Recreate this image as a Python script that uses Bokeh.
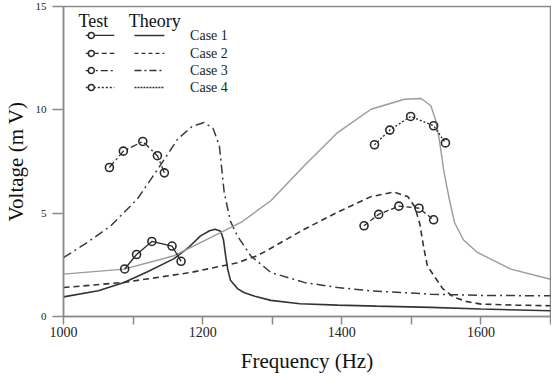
from bokeh.plotting import figure
from bokeh.models import FixedTicker, Range1d, Label
from bokeh.embed import file_html
from bokeh.resources import INLINE

# ---------------- data ----------------
# Theory curves (Frequency Hz, Voltage mV)
th1_f = [1000, 1050, 1087, 1120, 1159, 1180, 1197, 1210, 1218, 1226, 1230, 1233, 1236, 1240,
         1250, 1260, 1275, 1298, 1340, 1394, 1450, 1528, 1600, 1700]
th1_v = [0.95, 1.25, 1.65, 2.15, 2.8, 3.35, 3.9, 4.15, 4.22, 4.12, 3.7, 2.95, 2.3, 1.75,
         1.35, 1.15, 0.98, 0.78, 0.62, 0.55, 0.5, 0.44, 0.36, 0.28]

th2_f = [1000, 1087, 1183, 1250, 1279, 1298, 1346, 1394, 1442, 1475, 1495, 1505, 1512, 1518,
         1523, 1533, 1545, 1560, 1580, 1600, 1650, 1700]
th2_v = [1.40, 1.65, 2.13, 2.6, 2.95, 3.3, 4.22, 5.05, 5.8, 6.02, 5.8, 5.3, 4.5, 3.3,
         2.45, 1.95, 1.35, 0.95, 0.72, 0.6, 0.55, 0.52]

th3_f = [1000, 1034, 1068, 1106, 1135, 1164, 1185, 1202, 1215, 1224, 1231, 1240, 1250, 1269,
         1298, 1346, 1394, 1442, 1528, 1600, 1700]
th3_v = [2.85, 3.58, 4.39, 5.68, 7.1, 8.58, 9.2, 9.39, 9.1, 8.26, 6.0, 4.6, 3.9, 2.94,
         2.13, 1.65, 1.4, 1.24, 1.08, 1.02, 1.0]

th4_f = [1000, 1087, 1159, 1207, 1255, 1298, 1346, 1394, 1442, 1490, 1514, 1528, 1535, 1540,
         1547, 1555, 1562, 1575, 1595, 1643, 1700]
th4_v = [2.05, 2.29, 2.94, 3.74, 4.55, 5.6, 7.29, 8.9, 10.03, 10.51, 10.55, 10.2, 9.5, 8.58,
         6.97, 5.6, 4.55, 3.7, 3.1, 2.29, 1.8]

# Test points
te1_f = [1088, 1105, 1127, 1156, 1169]
te1_v = [2.3, 3.0, 3.63, 3.41, 2.67]
te2_f = [1432, 1453, 1482, 1511, 1532]
te2_v = [4.39, 4.94, 5.34, 5.24, 4.68]
te3_f = [1066, 1086, 1114, 1135, 1145]
te3_v = [7.21, 8.0, 8.47, 7.78, 6.95]
te4_f = [1447, 1469, 1499, 1532, 1549]
te4_v = [8.31, 9.02, 9.68, 9.23, 8.4]

case_labels = ["Case 1", "Case 2", "Case 3", "Case 4"]
x_ticks = [1000, 1100, 1200, 1300, 1400, 1500, 1600, 1700]
x_tick_labels = {1000: "1000", 1100: "", 1200: "1200", 1300: "", 1400: "1400",
                 1500: "", 1600: "1600", 1700: ""}
y_ticks = [0, 5, 10, 15]

# ---------------- styles ----------------
SERIF = "Liberation Serif"
AX = "#8a8a8a"
dark = "#2a2a2a"
theory_styles = [
    dict(color="#333333", width=1.6, dash="solid"),
    dict(color="#333333", width=1.6, dash="6 4"),
    dict(color="#3a3a3a", width=1.5, dash="9 4 2 4"),
    dict(color="#9a9a9a", width=1.4, dash="solid"),
]
legend_theory_dash = ["solid", "4 3", "7 3 2 3", "2 1"]
test_styles = [
    dict(dash="solid"),
    dict(dash="5 3"),
    dict(dash="7 3 2 3"),
    dict(dash="2 2"),
]

p = figure(frame_width=487, frame_height=310, output_backend="svg", toolbar_location=None,
           x_range=Range1d(1000, 1700), y_range=Range1d(0, 15),
           min_border_left=58, min_border_right=1, min_border_top=6, min_border_bottom=61)
p.background_fill_color = "white"
p.border_fill_color = "white"
p.outline_line_color = AX
p.outline_line_width = 1.5
p.grid.visible = False

theory = [(th1_f, th1_v), (th2_f, th2_v), (th3_f, th3_v), (th4_f, th4_v)]
tests = [(te1_f, te1_v), (te2_f, te2_v), (te3_f, te3_v), (te4_f, te4_v)]

for (f, v), st in zip(theory, theory_styles):
    p.line(f, v, line_color=st["color"], line_width=st["width"], line_dash=st["dash"])

for (f, v), st in zip(tests, test_styles):
    p.line(f, v, line_color=dark, line_width=1.3, line_dash=st["dash"])
    p.scatter(f, v, marker="circle", size=8, fill_color="white", fill_alpha=0.0,
              line_color=dark, line_width=1.6)

# axes
p.xaxis.ticker = FixedTicker(ticks=x_ticks)
p.xaxis.major_label_overrides = x_tick_labels
p.yaxis.ticker = FixedTicker(ticks=y_ticks)
for ax in (p.xaxis, p.yaxis):
    ax.axis_line_color = AX
    ax.axis_line_width = 1.5
    ax.major_tick_line_color = AX
    ax.major_tick_line_width = 1.5
    ax.major_tick_in = 0
    ax.minor_tick_line_color = None
    ax.major_label_text_font = SERIF
    ax.major_label_text_color = "#222222"
    ax.axis_label_text_font = SERIF
    ax.axis_label_text_font_style = "normal"
    ax.axis_label_text_color = "#111111"
    ax.axis_label_text_font_size = "21px"
p.xaxis.major_tick_out = 8
p.xaxis.major_label_text_font_size = "14px"
p.xaxis.major_label_standoff = 2
p.xaxis.axis_label = "Frequency (Hz)"
p.xaxis.axis_label_standoff = 9
p.yaxis.major_tick_out = 11
p.yaxis.major_label_text_font_size = "11px"
p.yaxis.major_label_standoff = 6
p.yaxis.axis_label = "Voltage (m V)"
p.yaxis.axis_label_standoff = 5

# legend (hand-built, two sample columns)
hdr_v = 14.32
row_v = [13.6, 12.73, 11.9, 11.08]
p.add_layout(Label(x=1043, y=hdr_v, text="Test", text_font=SERIF, text_font_size="18px",
                   text_align="center", text_baseline="middle", text_color="#111111"))
p.add_layout(Label(x=1131, y=hdr_v, text="Theory", text_font=SERIF, text_font_size="18px",
                   text_align="center", text_baseline="middle", text_color="#111111"))
for rv, lab, ts, ldash in zip(row_v, case_labels, test_styles, legend_theory_dash):
    p.line([1032, 1073], [rv, rv], line_color=dark, line_width=1.3, line_dash=ts["dash"])
    p.scatter([1040], [rv], marker="circle", size=6, fill_color="white",
              line_color=dark, line_width=1.5)
    p.line([1102, 1145], [rv, rv], line_color="#333333", line_width=1.4, line_dash=ldash)
    p.add_layout(Label(x=1182, y=rv, text=lab, text_font=SERIF, text_font_size="14px",
                       text_align="left", text_baseline="middle", text_color="#222222"))

open("out.html", "w").write(file_html(p, INLINE))
